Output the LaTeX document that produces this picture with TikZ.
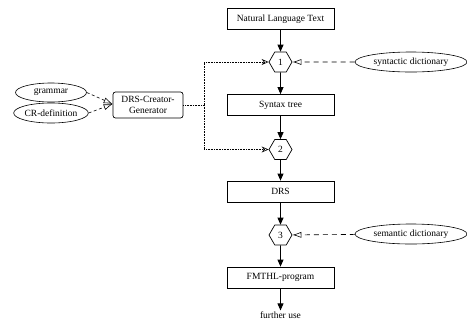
\documentclass[tikz,border=0pt]{standalone}
\usepackage{fontspec}
\setmainfont{Liberation Serif}
\usetikzlibrary{calc, shapes.geometric, arrows.meta, positioning}

\begin{document}
\begin{tikzpicture}[%
    x=1pt, y=1pt,
    >={Triangle[length=7pt, width=6pt]},  % arrow style
    every node/.style={font=\fontsize{9.5}{10.5}\selectfont},
    stagebox/.style={draw, line width=0.8pt, minimum width=107pt, minimum height=21pt, inner sep=1pt},
    toolbox/.style={draw, rounded corners=2.5pt, line width=0.7pt, minimum width=70pt, minimum height=26pt, align=center, inner sep=1pt},
    passnode/.style={draw, regular polygon, regular polygon sides=6, minimum size=23pt, inner sep=0pt, line width=0.7pt},
    datanode/.style={draw, ellipse, line width=0.6pt, minimum width=112pt, minimum height=20pt, inner sep=0pt},
    flow/.style={->, line width=0.8pt},
    dictflow/.style={-{Latex[open, length=9pt, width=6pt]}, dashed, dash pattern=on 5pt off 4pt, line width=0.6pt},
    genflow/.style={-{Stealth[open, length=7pt, width=6pt]}, densely dotted, line width=0.6pt},
    ]

\useasboundingbox (0,0) rectangle (467,-325);

%==================================================
% Coordinates
%==================================================
\coordinate (C0) at (280.5,-19);
\coordinate (G0) at (148,-105);

%==================================================
% Main chain
%==================================================
\node[stagebox] (nlt)   at (C0)                  {Natural Language Text};
\node[passnode] (p1)    at ($(C0)+(0,-43)$)      {1};
\node[stagebox] (stree) at ($(C0)+(0,-86)$)      {Syntax tree};
\node[passnode] (p2)    at ($(C0)+(0,-130.5)$)   {2};
\node[stagebox] (drs)   at ($(C0)+(0,-172.5)$)   {DRS};
\node[passnode] (p3)    at ($(C0)+(0,-216)$)     {3};
\node[stagebox] (fmthl) at ($(C0)+(0,-258.5)$)   {FMTHL-program};
\node[inner sep=1pt] (use) at ($(C0)+(0,-296)$)  {further use};

%==================================================
% Dictionaries
%==================================================
\node[datanode] (syndict) at (411,-62)  {syntactic dictionary};
\node[datanode] (semdict) at (411,-234) {semantic dictionary};

%==================================================
% Generator
%==================================================
\node[toolbox] (gen) at (G0) {DRS-Creator-\\Generator};
\node[datanode, minimum width=71pt, minimum height=19pt] (gram) at (51,-92.5)  {grammar};
\node[datanode, minimum width=71pt, minimum height=20pt] (crdef) at (51,-113) {CR-definition};

\coordinate (J0) at (204,-105);

%==================================================
% Arrows
%==================================================
% Main chain
\draw[flow] (nlt) -- (p1);
\draw[flow] (p1) -- (stree);
\draw[flow] (stree) -- (p2);
\draw[flow] (p2) -- (drs);
\draw[flow] (drs) -- (p3);
\draw[flow] (p3) -- (fmthl);
\draw[flow] (fmthl) -- (use);

% Dictionaries
\draw[dictflow] (syndict) -- (p1);
\draw[dictflow] (semdict) -- (p3);

% Generator
\draw[dictflow, dash pattern=on 3pt off 2.5pt] (gram.east) -- ($(gen.west)+(0,1)$);
\draw[dictflow, dash pattern=on 3pt off 2.5pt] (crdef.east) -- ($(gen.west)+(0,1)$);
\draw[genflow] (gen.east) -- (J0) |- (p1.west);
\draw[genflow] (J0) |- (p2.west);

%==================================================
\end{tikzpicture}
\end{document}
